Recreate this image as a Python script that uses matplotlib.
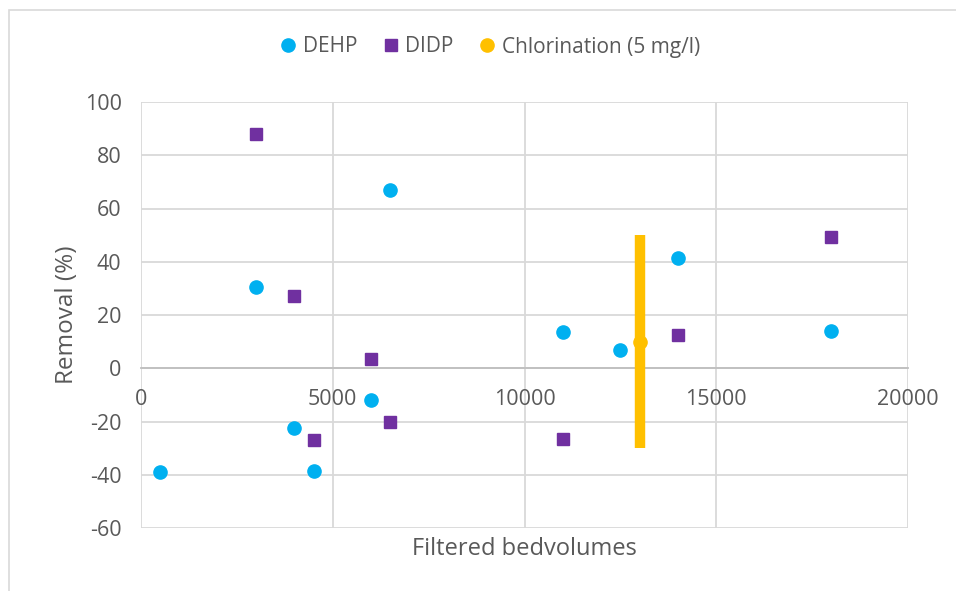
import matplotlib
matplotlib.use('Agg')
import matplotlib.pyplot as plt
from matplotlib.patches import Rectangle

# Data
dehp_x = [500, 3000, 4000, 4500, 6000, 6500, 11000, 12500, 14000, 18000]
dehp_y = [-39, 30.5, -22.5, -38.7, -12, 67, 13.6, 6.8, 41.3, 14]

didp_x = [3000, 4000, 4500, 6000, 6500, 11000, 14000, 18000]
didp_y = [88, 27, -27, 3.3, -20, -26.5, 12.5, 49.3]

chlor_x = [13000]
chlor_y = [10]
chlor_err = [40]

x_ticks = [0, 5000, 10000, 15000, 20000]
y_ticks = [-60, -40, -20, 0, 20, 40, 60, 80, 100]

plt.rcParams['font.family'] = ['Open Sans', 'DejaVu Sans']
plt.rcParams['axes.unicode_minus'] = False
text_col = '#595959'
grid_col = '#d9d9d9'

fig = plt.figure(figsize=(9.56, 5.91), dpi=100)
ax = fig.add_axes([141 / 956, 1 - 528 / 591, (908 - 141) / 956, (528 - 102) / 591])

# outer chart border
fig.patches.append(Rectangle((9 / 956, -0.05), 1.2, 1 - 10 / 591 + 0.05,
                             transform=fig.transFigure, fill=False,
                             edgecolor='#d9d9d9', linewidth=1.2))

ax.errorbar(chlor_x, chlor_y, yerr=chlor_err, fmt='none', ecolor='#FFC000',
            elinewidth=7.5, capsize=0, zorder=3)
ax.plot(dehp_x, dehp_y, 'o', color='#00B0F0', markersize=9.5, label='DEHP', zorder=4)
ax.plot(didp_x, didp_y, 's', color='#7030A0', markersize=9, label='DIDP', zorder=4)
ax.plot(chlor_x, chlor_y, 'o', color='#FFC000', markersize=9.5,
        label='Chlorination (5 mg/l)', zorder=4)

ax.set_xlim(0, 20000)
ax.set_ylim(-60, 100)
ax.set_xticks(x_ticks)
ax.set_yticks(y_ticks)
ax.grid(True, color=grid_col, linewidth=1.3)
ax.set_axisbelow(True)

for s in ['top', 'right', 'left']:
    ax.spines[s].set_visible(False)
ax.spines['bottom'].set_position(('data', 0))
ax.spines['bottom'].set_color('#bfbfbf')
ax.spines['bottom'].set_linewidth(1.3)
ax.spines['bottom'].set_zorder(1)

ax.tick_params(axis='both', length=0, labelsize=15.5, labelcolor=text_col)
ax.tick_params(axis='x', pad=15)
ax.tick_params(axis='y', pad=14)

ax.set_xlabel('Filtered bedvolumes', fontsize=17, color=text_col)
ax.xaxis.set_label_coords(0.5, -0.022)
ax.set_ylabel('Removal (%)', fontsize=17.5, color=text_col)
ax.yaxis.set_label_coords(-0.081, 0.5)

fig.legend(loc='center', bbox_to_anchor=(490 / 956, 1 - 47 / 591), ncol=3, frameon=False,
           fontsize=15, labelcolor=text_col, handlelength=0.8, handletextpad=0.3,
           columnspacing=1.2)

fig.savefig('out.png', dpi=100)
